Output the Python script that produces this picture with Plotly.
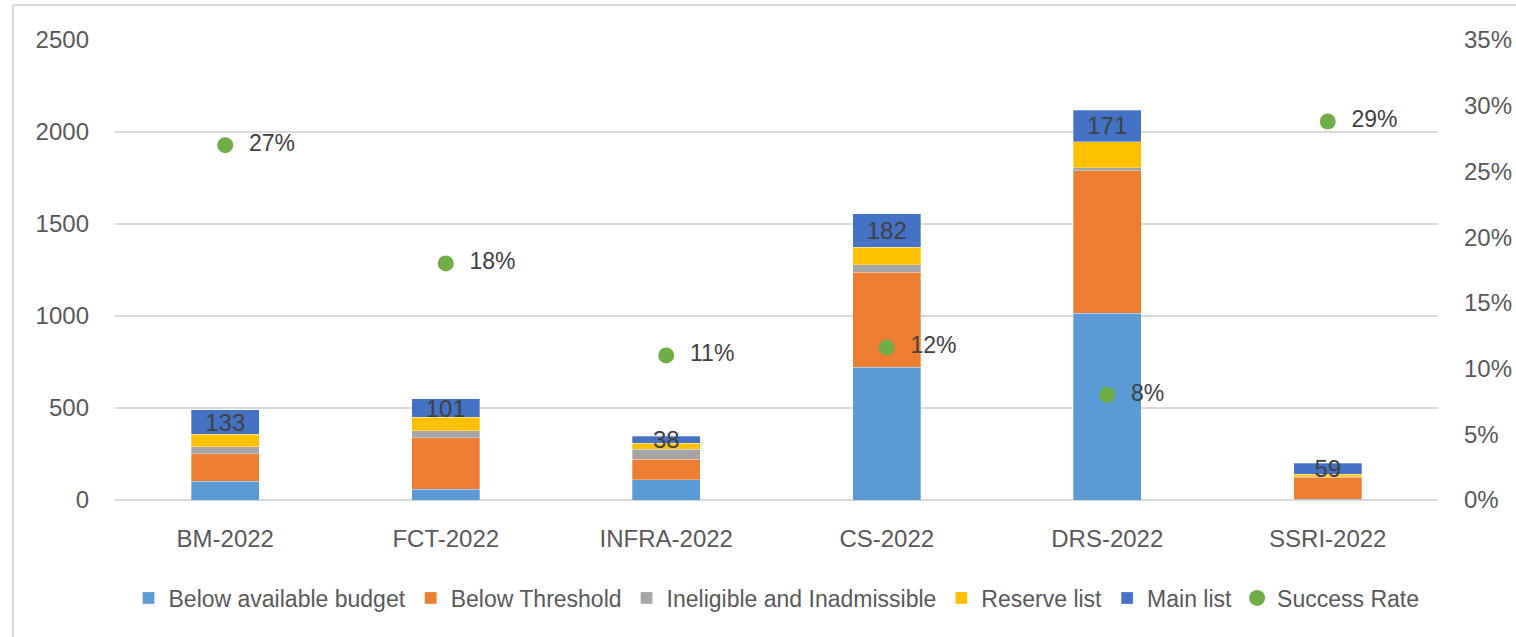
import plotly.graph_objects as go

categories = ["BM-2022", "FCT-2022", "INFRA-2022", "CS-2022", "DRS-2022", "SSRI-2022"]
below_budget = [102, 58, 109, 721, 1015, 5]
below_threshold = [150, 280, 112, 518, 774, 118]
ineligible = [38, 38, 54, 40, 16, 3]
reserve = [67, 73, 33, 96, 143, 14]
main_list = [133, 101, 38, 182, 171, 59]
success_rate = [0.27, 0.18, 0.11, 0.116, 0.08, 0.288]

FONT = "Liberation Sans"
TXT = "#595959"
fs = 24

fig = go.Figure()
series = [
    ("Below available budget", below_budget, "#5B9BD5"),
    ("Below Threshold", below_threshold, "#ED7D31"),
    ("Ineligible and Inadmissible", ineligible, "#A5A5A5"),
    ("Reserve list", reserve, "#FFC000"),
    ("Main list", main_list, "#4472C4"),
]
for name, vals, col in series:
    kw = {}
    if name == "Main list":
        kw = dict(text=[str(v) for v in vals], textposition="inside",
                  insidetextanchor="middle", textangle=0,
                  textfont=dict(family=FONT, size=fs, color="#404040"))
    fig.add_trace(go.Bar(name=name, x=categories, y=vals,
                         marker=dict(color=col, line=dict(color="rgba(255,255,255,0.6)", width=0.5)),
                         yaxis="y", **kw))

fig.add_trace(go.Scatter(name="Success Rate", x=categories, y=success_rate, yaxis="y2",
                         mode="markers+text", texttemplate="\u00a0\u00a0%{y:.0%}",
                         textposition="middle right",
                         textfont=dict(family=FONT, size=fs - 1, color="#404040"),
                         marker=dict(color="#70AD47", size=16), cliponaxis=False))

fig.update_layout(
    width=1516, height=637,
    barmode="stack", bargap=0.69,
    paper_bgcolor="white", plot_bgcolor="white",
    margin=dict(l=115, r=78, t=40, b=137, autoexpand=False),
    font=dict(family=FONT, size=fs, color=TXT),
    uniformtext=dict(minsize=fs, mode="show"),
    xaxis=dict(showgrid=False, showline=False, ticks="", ticklabelstandoff=22, automargin=False,
               tickfont=dict(size=fs, color=TXT)),
    yaxis=dict(range=[0, 2500], dtick=500, showgrid=True, gridcolor="#D9D9D9", gridwidth=2,
               zeroline=True, zerolinecolor="#D9D9D9", zerolinewidth=2, automargin=False,
               ticklabelstandoff=25, tickfont=dict(size=fs, color=TXT)),
    yaxis2=dict(range=[0, 0.35], dtick=0.05, tickformat=".0%", overlaying="y", side="right",
                showgrid=False, zeroline=False, ticklabelstandoff=25, automargin=False,
                tickfont=dict(size=fs, color=TXT)),
    legend=dict(orientation="h", x=0.5, xanchor="center", y=-0.213, yanchor="middle",
                font=dict(size=23, color=TXT), itemwidth=30, traceorder="normal"),
    shapes=[
        dict(type="line", xref="paper", yref="paper", x0=(13-115)/1323, x1=(13-115)/1323,
             y0=(500-5)/460, y1=-1, line=dict(color="#D9D9D9", width=2)),
        dict(type="line", xref="paper", yref="paper", x0=(13-115)/1323, x1=2,
             y0=(500-5)/460, y1=(500-5)/460, line=dict(color="#D9D9D9", width=2)),
    ],
)

fig.write_html("out.html", config={"displayModeBar": False},
               post_script="document.body.style.margin='0';document.body.style.overflow='hidden';")
